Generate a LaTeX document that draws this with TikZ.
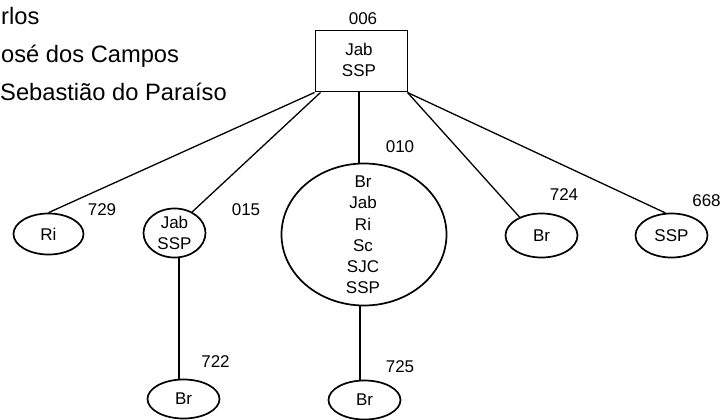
\documentclass[tikz,border=0pt]{standalone}
\usepackage{fontspec}
\setmainfont{Liberation Sans}
\usetikzlibrary{shapes.geometric}
\begin{document}
\begin{tikzpicture}[x=1pt,y=-1pt,
  ell/.style={draw, ellipse, line width=1.7pt, inner sep=0pt, align=center,
              font=\fontsize{17}{21}\selectfont},
  boxnode/.style={draw, line width=1pt, inner sep=0pt},
  nodetext/.style={inner sep=0pt, align=center, font=\fontsize{17}{21.2}\selectfont},
  lbl/.style={inner sep=0pt, font=\fontsize{17}{20}\selectfont},
  conn/.style={line width=1.3pt},
  city/.style={anchor=base west, inner sep=0pt, font=\fontsize{23.7}{28}\selectfont}]
\useasboundingbox (0,0) rectangle (721,420);

% legend (cut at the left edge)
\node[city] (city1) at (1,25) {rlos};
\node[city] (city2) at (1,63) {osé dos Campos};
\node[city] (city3) at (0,101) {Sebastião do Paraíso};

% root box
\node[boxnode, minimum width=92pt, minimum height=61pt] (n006) at (361,61.5) {};
\node[nodetext] (t006) at (359,60) {Jab\\SSP};
\node[lbl] (l006) at (363,18.5) {006};

% children
\node[ell, minimum width=70pt, minimum height=41pt] (n729) at (48.5,234) {Ri};
\node[ell, minimum width=62pt, minimum height=49pt] (n015) at (174.5,233) {Jab\\SSP};
\node[ell, minimum width=165pt, minimum height=142pt] (n010) at (364,234.5) {};
\node[nodetext] (t010) at (363,235) {Br\\Jab\\Ri\\Sc\\SJC\\SSP};
\node[ell, minimum width=72pt, minimum height=44pt] (n724) at (541.5,235.5) {Br};
\node[ell, minimum width=72pt, minimum height=44pt] (n668) at (671.5,235.5) {SSP};
\node[ell, minimum width=72pt, minimum height=39pt] (n722) at (183.5,399) {Br};
\node[ell, minimum width=72pt, minimum height=39pt] (n725) at (364.5,400) {Br};

% labels
\node[lbl] (l729) at (102,210) {729};
\node[lbl] (l015) at (246,210) {015};
\node[lbl] (l010) at (400,147) {010};
\node[lbl] (l724) at (564,195) {724};
\node[lbl] (l668) at (706.5,201) {668};
\node[lbl] (l722) at (215.5,362) {722};
\node[lbl] (l725) at (400,366.5) {725};

% connectors
\coordinate (c010t) at ([xshift=-5pt]n010.north);
\coordinate (c010b) at ([xshift=-4pt]n010.south);
\coordinate (c015b) at ([xshift=4.5pt]n015.south);
\draw[conn] (n006.south west) -- (n729.north);
\draw[conn] ([xshift=6pt]n006.south west) -- (n015.50);
\draw[conn] (c010t |- n006.south) -- (c010t);
\draw[conn] (n006.south east) -- (n724.140);
\draw[conn] (n006.south east) -- (n668.105);
\draw[conn] (c015b) -- (c015b |- n722.north);
\draw[conn] (c010b) -- (c010b |- n725.north);
\end{tikzpicture}
\end{document}
